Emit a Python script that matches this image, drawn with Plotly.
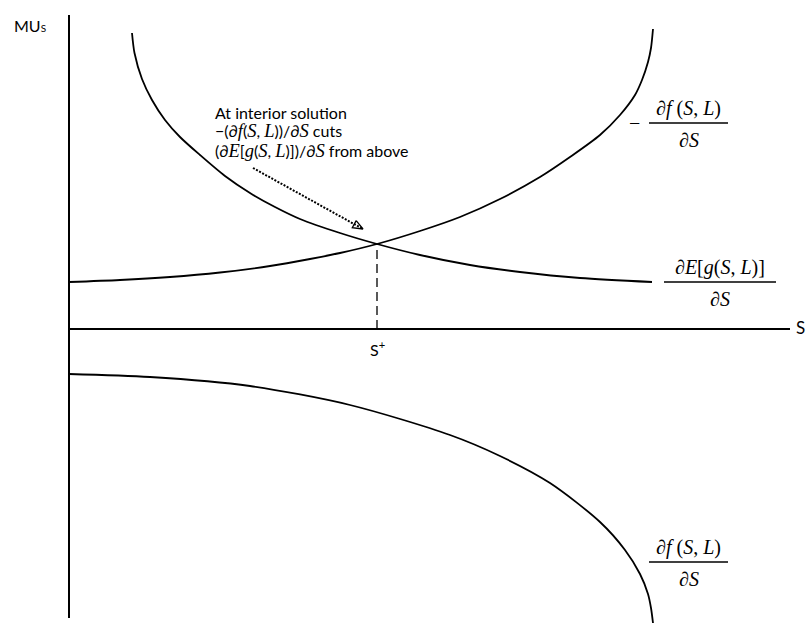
import plotly.graph_objects as go

# ---- data (S on x, marginal utility on y; origin where the axes cross) ----
# dE[g(S,L)]/dS  (falling curve)
e_s = [63, 65.5, 73, 83, 96, 111, 131, 156, 181, 206, 231, 271, 308, 351, 401, 451, 511, 583]
e_mu = [296, 276, 250, 229, 209, 192, 174, 153, 136, 122, 110, 96, 85, 74, 64, 57, 51, 47]

# -df(S,L)/dS  (rising curve)
f_s = [0, 51, 101, 151, 201, 241, 271, 308, 351, 391, 431, 471, 501, 531, 551, 566, 573, 579, 582, 584]
f_mu = [47, 49, 52, 56.5, 63, 70, 76, 85, 98, 112, 130, 152, 172, 194, 214, 234, 249, 267, 281, 300]

# df(S,L)/dS  (lower curve)
g_s = [0, 81, 181, 281, 381, 431, 481, 531, 556, 571, 579, 582, 584]
g_mu = [-45, -48, -57, -76, -106, -127, -154, -193, -221, -245, -265, -279, -294]

S_PLUS = 308          # interior solution S+
MU_AT_S_PLUS = 85

AXIS_X_END = 721
AXIS_Y_TOP = 314
AXIS_Y_BOTTOM = -289

arrow_tail = (184, 161)
arrow_tip = (294, 100)

BLACK = "#000000"
SERIF = "Liberation Serif"
SANS = "Lato"

fig = go.Figure()

def line(xs, ys, width=1.8, dash="solid", shape="spline"):
    fig.add_trace(go.Scatter(x=xs, y=ys, mode="lines",
                             line=dict(color=BLACK, width=width, dash=dash, shape=shape,
                                       smoothing=0.8),
                             hoverinfo="skip", showlegend=False))

# axes
line([0, 0], [AXIS_Y_BOTTOM, AXIS_Y_TOP], width=2, shape="linear")
line([0, AXIS_X_END], [0, 0], width=2, shape="linear")

# curves
line(e_s, e_mu)
line(f_s, f_mu)
line(g_s, g_mu)

# dashed drop line
line([S_PLUS, S_PLUS], [0, MU_AT_S_PLUS], width=1.3, dash="9px,5px", shape="linear")

# dotted arrow
line([arrow_tail[0], arrow_tip[0]], [arrow_tail[1], arrow_tip[1]], width=2,
     dash="2px,1.5px", shape="linear")
dx, dy = arrow_tip[0] - arrow_tail[0], arrow_tip[1] - arrow_tail[1]
n = (dx * dx + dy * dy) ** 0.5
ux, uy = dx / n, dy / n
px_, py_ = -uy, ux
bx, by = arrow_tip[0] - 10 * ux, arrow_tip[1] - 10 * uy
w1 = (bx + 4 * px_, by + 4 * py_)
w2 = (bx - 4 * px_, by - 4 * py_)
line([w1[0], arrow_tip[0], w2[0], w1[0]], [w1[1], arrow_tip[1], w2[1], w1[1]],
     width=1.3, shape="linear")

def txt(x, y, s, size=15, family=SANS, xanchor="center"):
    fig.add_annotation(x=x, y=y, text=s, showarrow=False, xanchor=xanchor,
                       yanchor="middle", font=dict(family=family, size=size, color=BLACK))

txt(-39, 304, "MU<span style='font-size:10px'>S</span>", size=16)
txt(725, 2, "S", size=17, xanchor="left")
txt(S_PLUS, -19, "S<sup>+</sup>", size=16)

def it(s):
    return "<span style='font-family:Liberation Serif;font-size:18.5px'><i>" + s + "</i></span>"

TX = 144
txt(TX, 217, "At interior solution", size=16, xanchor="left")
txt(TX, 198, "−(∂" + it("f") + "(" + it("S") + ", " + it("L") + "))/∂" + it("S") + " cuts",
    size=16, xanchor="left")
txt(TX, 178, "(∂" + it("E") + "[" + it("g") + "(" + it("S") + ", " + it("L") + ")])/∂"
    + it("S") + " from above", size=16, xanchor="left")

def frac(x0, x1, ybar, num, den, size=20):
    cx = (x0 + x1) / 2
    line([x0, x1], [ybar, ybar], width=1.3, shape="linear")
    txt(cx, ybar + 15, num, size=size, family=SERIF)
    txt(cx, ybar - 17, den, size=size, family=SERIF)

frac(580, 659, 206, "∂<i>f</i> (<i>S</i>, <i>L</i>)", "∂<i>S</i>")
txt(565, 206, "−", size=20, family=SERIF)
frac(595, 707, 47, "∂<i>E</i>[<i>g</i>(<i>S</i>, <i>L</i>)]", "∂<i>S</i>")
frac(580, 659, -233, "∂<i>f</i> (<i>S</i>, <i>L</i>)", "∂<i>S</i>")

fig.update_layout(
    width=806, height=627,
    margin=dict(l=0, r=0, t=0, b=0),
    paper_bgcolor="white", plot_bgcolor="white",
    xaxis=dict(range=[-69, 737], visible=False, fixedrange=True),
    yaxis=dict(range=[-298, 329], visible=False, fixedrange=True),
    showlegend=False,
)

fig.write_html("out.html",
               config={"displayModeBar": False, "staticPlot": True},
               post_script="document.body.style.margin='0px';document.body.style.overflow='hidden';")
